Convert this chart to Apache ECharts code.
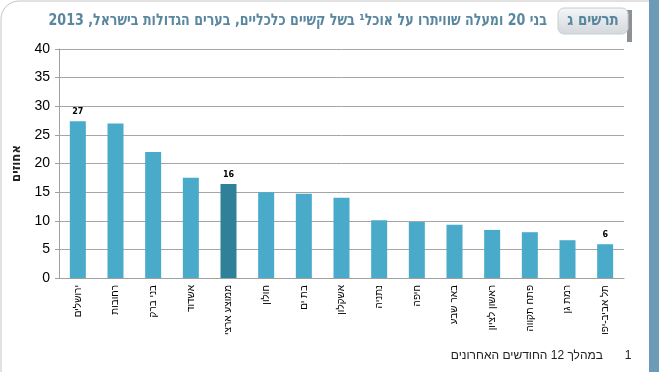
<!DOCTYPE html>
<html>
<head>
<meta charset="utf-8">
<script src="https://cdn.jsdelivr.net/npm/echarts@6/dist/echarts.min.js"></script>
<style>
html,body{margin:0;padding:0;background:#fff;}
#c{width:659px;height:372px;}
</style>
</head>
<body>
<div id="c"></div>
<script>
const categories = ['ירושלים','רחובות','בני ברק','אשדוד','ממוצע ארצי','חולון','בת ים','אשקלון','נתניה','חיפה','באר שבע','ראשון לציון','פתח תקווה','רמת גן','תל אביב-יפו'];
const values = [27.4, 27.0, 22.0, 17.5, 16.4, 15.0, 14.7, 14.0, 10.1, 9.8, 9.3, 8.4, 8.0, 6.6, 5.9];
const labelTexts = ['27', '', '', '', '16', '', '', '', '', '', '', '', '', '', '6'];
const highlightCategory = 'ממוצע ארצי';
const yTicks = {min: 0, max: 40, interval: 5};
const titleText = 'בני 20 ומעלה שוויתרו על אוכל¹ בשל קשיים כלכליים, בערים הגדולות בישראל, 2013';
const badgeText = 'תרשים ג';
const yName = 'אחוזים';
const footNum = '1';
const footText = 'במהלך 12 החודשים האחרונים';

const chart = echarts.init(document.getElementById('c'), null, {renderer: 'canvas'});
const data = values.map((v, i) => ({
  value: v,
  itemStyle: {color: categories[i] === highlightCategory ? '#2f8199' : '#49aaca'},
  label: {show: labelTexts[i] !== '', formatter: labelTexts[i]}
}));

chart.setOption({
  animation: false,
  backgroundColor: '#ffffff',
  grid: {left: 59, right: 35, top: 49, bottom: 94, containLabel: false},
  xAxis: {
    type: 'category',
    data: categories,
    axisLine: {lineStyle: {color: '#a0a0a0', width: 1}},
    axisTick: {show: false},
    axisLabel: {rotate: 90, interval: 0, fontSize: 10, color: '#000', fontFamily: 'Liberation Sans', margin: 7}
  },
  yAxis: {
    type: 'value',
    min: yTicks.min, max: yTicks.max, interval: yTicks.interval,
    name: yName,
    nameLocation: 'middle',
    nameGap: 31,
    nameTextStyle: {fontSize: 13, fontWeight: 'bold', color: '#222', fontFamily: 'DejaVu Sans Condensed'},
    axisLine: {show: true, lineStyle: {color: '#a0a0a0', width: 1}},
    axisTick: {show: true, length: 4, lineStyle: {color: '#a0a0a0'}},
    axisLabel: {fontSize: 14, color: '#000', fontFamily: 'Liberation Sans', margin: 9},
    splitLine: {lineStyle: {color: '#a6a6a6', width: 1}}
  },
  series: [{
    type: 'bar',
    data: data,
    barWidth: 16,
    label: {position: 'top', distance: 5, fontSize: 8, fontWeight: 'bold', color: '#000', fontFamily: 'DejaVu Sans'}
  }],
  graphic: [
    {type: 'rect', shape: {x: 1, y: 1, width: 720, height: 420, r: 18}, style: {fill: 'none', stroke: '#c4c4c4', lineWidth: 1}, z: -1},
    {type: 'rect', shape: {x: 649, y: 0, width: 10, height: 372}, style: {fill: '#6b9bb6'}},
    {type: 'rect', shape: {x: 627, y: 10, width: 5, height: 32}, style: {fill: '#8c9196'}},
    {type: 'rect', shape: {x: 558, y: 8, width: 70, height: 26, r: 6},
      style: {fill: new echarts.graphic.LinearGradient(0, 0, 0, 1, [{offset: 0, color: '#f4f6f7'}, {offset: 1, color: '#d3d8dc'}]), stroke: '#c8cdd1', lineWidth: 1}},
    {type: 'text', x: 593, y: 21, scaleX: 0.88, style: {text: badgeText, fill: '#5a87a0', font: 'bold 17px "DejaVu Sans Condensed"', textAlign: 'center', textVerticalAlign: 'middle'}},
    {type: 'text', x: 547, y: 21, scaleX: 0.88, style: {text: titleText, fill: '#5a87a0', font: 'bold 16px "DejaVu Sans Condensed"', textAlign: 'right', textVerticalAlign: 'middle'}},
    {type: 'text', x: 628, y: 356, style: {text: footNum, fill: '#222', font: '12px "Liberation Sans"', textAlign: 'center', textVerticalAlign: 'middle'}},
    {type: 'text', x: 603, y: 356, style: {text: footText, fill: '#222', font: '12px "Liberation Sans"', textAlign: 'right', textVerticalAlign: 'middle'}}
  ]
});
</script>
</body>
</html>
